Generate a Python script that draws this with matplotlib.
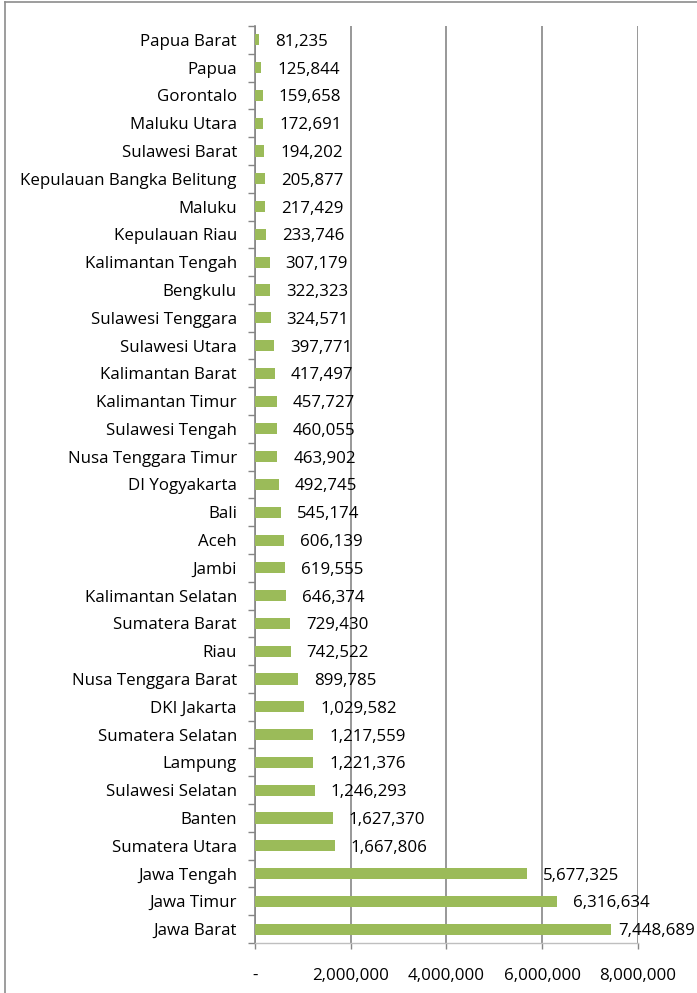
import matplotlib
matplotlib.use("Agg")
import matplotlib.pyplot as plt
from matplotlib.lines import Line2D
from matplotlib.ticker import FixedLocator, FuncFormatter

plt.rcParams['font.family'] = ['Open Sans', 'DejaVu Sans']
FS = 12.2

provinces = ["Jawa Barat", "Jawa Timur", "Jawa Tengah", "Sumatera Utara", "Banten",
             "Sulawesi Selatan", "Lampung", "Sumatera Selatan", "DKI Jakarta",
             "Nusa Tenggara Barat", "Riau", "Sumatera Barat", "Kalimantan Selatan",
             "Jambi", "Aceh", "Bali", "DI Yogyakarta", "Nusa Tenggara Timur",
             "Sulawesi Tengah", "Kalimantan Timur", "Kalimantan Barat", "Sulawesi Utara",
             "Sulawesi Tenggara", "Bengkulu", "Kalimantan Tengah", "Kepulauan Riau",
             "Maluku", "Kepulauan Bangka Belitung", "Sulawesi Barat", "Maluku Utara",
             "Gorontalo", "Papua", "Papua Barat"]
values = [7448689, 6316634, 5677325, 1667806, 1627370, 1246293, 1221376, 1217559,
          1029582, 899785, 742522, 729430, 646374, 619555, 606139, 545174, 492745,
          463902, 460055, 457727, 417497, 397771, 324571, 322323, 307179, 233746,
          217429, 205877, 194202, 172691, 159658, 125844, 81235]
x_ticks = [0, 2000000, 4000000, 6000000, 8000000]

W, H = 697, 993
fig = plt.figure(figsize=(W / 100, H / 100), dpi=100)
ax = fig.add_axes([255 / W, 1 - 943 / H, (637.7 - 255) / W, (943 - 26) / H])

bar_color = "#9BBB59"
grid_color = "#868686"
n = len(provinces)
pos = list(range(n))
ax.barh(pos, values, height=0.4, color=bar_color, zorder=3)

for p, v in zip(pos, values):
    # labels near the right end are nudged closer to the bar (as in the original)
    dx = 7 if v > 7000000 else 16
    ax.annotate(f"{v:,}", xy=(v, p), xytext=(dx, -2), textcoords="offset pixels",
                ha="left", va="center", fontsize=FS, color="#000000",
                annotation_clip=False, zorder=4)

ax.set_xlim(0, 8000000)
ax.set_ylim(-0.5, n - 0.5)

ax.xaxis.set_major_locator(FixedLocator(x_ticks))
ax.xaxis.set_major_formatter(FuncFormatter(lambda v, _: "-" if v == 0 else f"{int(v):,}"))
ax.grid(axis="x", color=grid_color, linewidth=1.2, zorder=0)
ax.tick_params(axis="x", direction="out", length=4, width=1, color=grid_color,
               labelsize=FS, pad=14)

ax.set_yticks(pos)
ax.set_yticklabels(provinces)
ax.set_yticks([i - 0.5 for i in range(n + 1)], minor=True)
ax.tick_params(axis="y", which="major", length=0, labelsize=FS, pad=13)
ax.tick_params(axis="y", which="minor", direction="out", length=5, width=1, color=grid_color)

for s in ["top", "right"]:
    ax.spines[s].set_visible(False)
ax.spines["left"].set_color(grid_color)
ax.spines["left"].set_linewidth(1.2)
ax.spines["bottom"].set_color("#BFBFBF")
ax.spines["bottom"].set_linewidth(1)

# outer chart border
fig.add_artist(Line2D([5 / W, 5 / W], [0, 1 - 2 / H], transform=fig.transFigure,
                      color="#8C8C8C", linewidth=1.2))
fig.add_artist(Line2D([5 / W, 1], [1 - 2 / H, 1 - 2 / H], transform=fig.transFigure,
                      color="#8C8C8C", linewidth=1.2))

fig.savefig("out.png", dpi=100, facecolor="white")
